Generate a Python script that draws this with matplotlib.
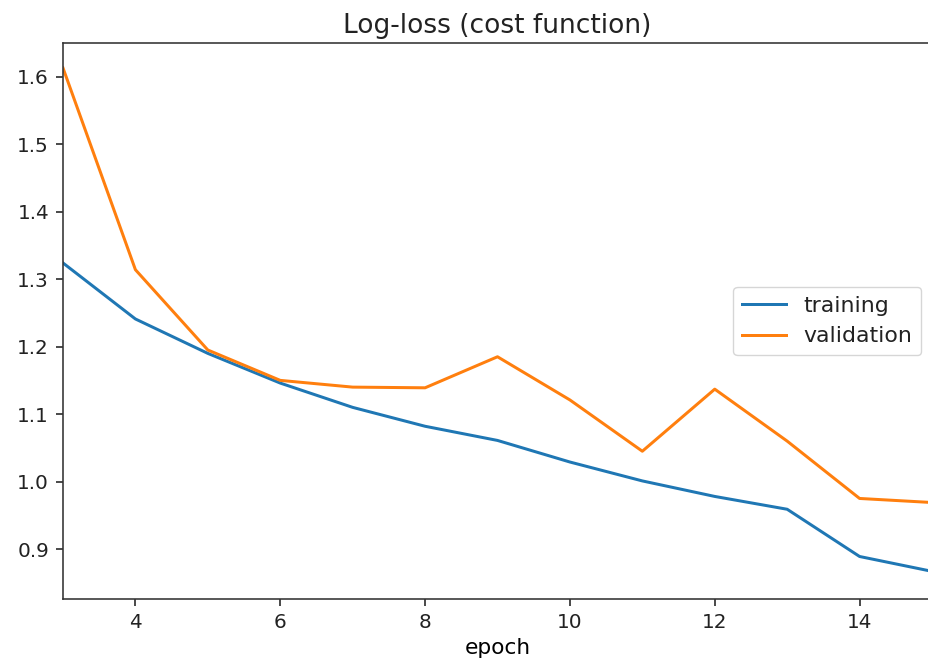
import matplotlib
matplotlib.use("Agg")
import matplotlib.pyplot as plt

epochs = [3, 4, 5, 6, 7, 8, 9, 10, 11, 12, 13, 14, 15]
training = [1.324, 1.241, 1.190, 1.146, 1.110, 1.082, 1.061, 1.029, 1.001, 0.978, 0.959, 0.889, 0.867]
validation = [1.613, 1.314, 1.195, 1.150, 1.140, 1.139, 1.185, 1.121, 1.045, 1.137, 1.060, 0.975, 0.969]

s = 1.44
plt.rcParams.update({
    'font.size': 10 * s,
    'axes.linewidth': 0.8 * s,
    'xtick.major.size': 3.5 * s,
    'ytick.major.size': 3.5 * s,
    'xtick.major.width': 0.8 * s,
    'ytick.major.width': 0.8 * s,
    'xtick.major.pad': 3.5 * s,
    'ytick.major.pad': 3.5 * s,
    'text.color': '#222222',
    'xtick.color': '#222222',
    'ytick.color': '#222222',
    'axes.edgecolor': '#333333',
})

fig = plt.figure(figsize=(9.29, 6.71), dpi=100)
W, H = 929, 671
ax = fig.add_axes([63 / W, 1 - 599 / H, (932 - 63) / W, (599 - 43) / H])
ax.plot(epochs, training, color='#1f77b4', lw=1.5 * s, label='training')
ax.plot(epochs, validation, color='#ff7f0e', lw=1.5 * s, label='validation')
ax.set_xlim(3, 15)
ax.set_ylim(0.826, 1.650)
ax.set_xticks([4, 6, 8, 10, 12, 14])
ax.set_yticks([0.9, 1.0, 1.1, 1.2, 1.3, 1.4, 1.5, 1.6])
ax.set_title('Log-loss (cost function)', fontsize=19, pad=5 * s)
ax.set_xlabel('epoch', fontsize=15.6, labelpad=3 * s)
ax.legend(loc='center right', framealpha=0.8, fontsize=15.8)
fig.savefig('out.png', dpi=100)
